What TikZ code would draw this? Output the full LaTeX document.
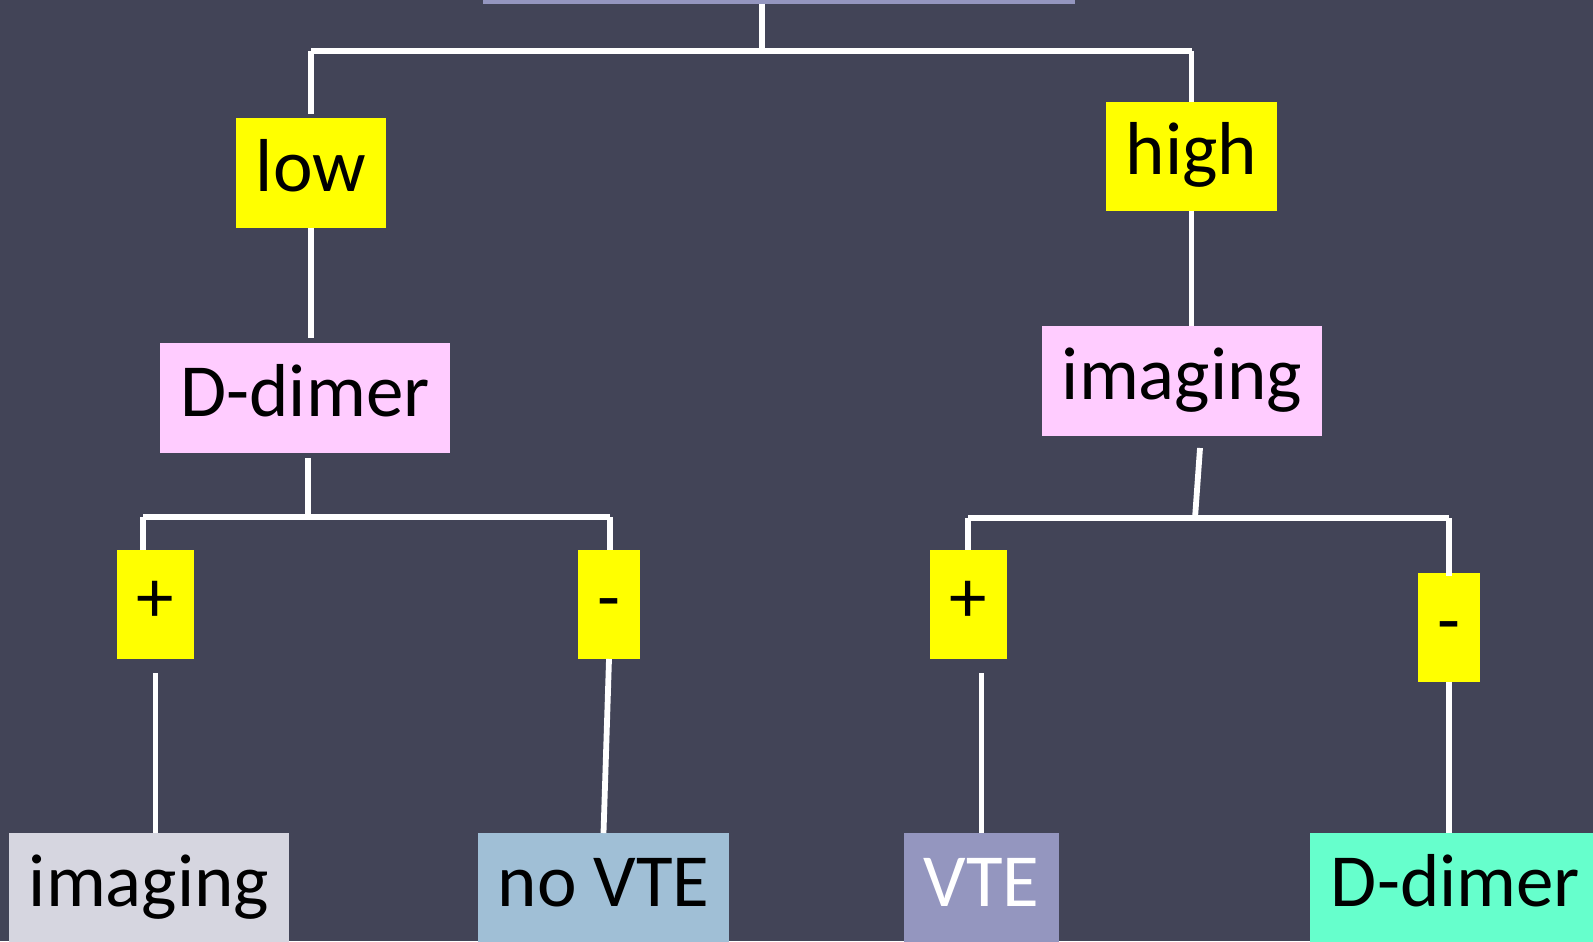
\documentclass[tikz,border=0pt]{standalone}
\usepackage{fontspec}
\setmainfont{Carlito}
\begin{document}
\begin{tikzpicture}[x=0.5pt,y=-0.5pt,
  box/.style={inner sep=0pt,outer sep=0pt,minimum height=55pt,text height=27pt,text depth=8.8pt,font=\fontsize{37.5}{40}\selectfont,text=black},
  yel/.style={box,fill=yel},
  conn/.style={draw=white,line width=2.9pt}]
\definecolor{bg}{HTML}{424457}
\definecolor{yel}{HTML}{FFFF00}
\definecolor{pinkbox}{HTML}{FFCCFF}
\definecolor{lav}{HTML}{9496BF}
\definecolor{greybox}{HTML}{D6D6E0}
\definecolor{bluebox}{HTML}{A0BFD6}
\definecolor{mint}{HTML}{66FFCC}
\useasboundingbox (0,0) rectangle (1593,941);
\fill[bg] (0,0) rectangle (1593,941);
\begin{scope}
\clip (0,0) rectangle (1593,941);
\node[box,fill=lav,minimum width=296pt,minimum height=52pt] (top) at (779,-48) {};
\node[yel,minimum width=75pt] (low) at (311,173) {low};
\node[box,fill=pinkbox,minimum width=145pt] (ddim1) at (305,398) {D-dimer};
\node[yel,minimum width=38.5pt,minimum height=54.5pt] (plus1) at (155.5,604.5) {+};
\node[yel,minimum width=31pt,minimum height=54.5pt] (minus1) at (609,604.5) {-};
\node[box,fill=greybox,minimum width=140pt] (imag1) at (149,888) {imaging};
\node[box,fill=bluebox,minimum width=125.5pt] (novte) at (603.5,888) {no VTE};
\node[yel,minimum width=85.5pt,minimum height=54.5pt] (high) at (1191.5,156.5) {high};
\node[box,fill=pinkbox,minimum width=140pt] (imag2) at (1182,381) {imaging};
\node[yel,minimum width=38.5pt,minimum height=54.5pt] (plus2) at (968.5,604.5) {+};
\node[yel,minimum width=31pt,minimum height=54.5pt] (minus2) at (1449,627.5) {-};
\node[box,fill=lav,minimum width=77.5pt,text=white] (vte) at (981.5,888) {VTE};
\node[box,fill=mint,minimum width=145.5pt] (ddim2) at (1455.5,888) {D-dimer};
\end{scope}
\coordinate (j0) at (762,51);
\coordinate (j1) at (308,517);
\coordinate (j1a) at (143,517);
\coordinate (j1b) at (610,517);
\coordinate (j2top) at (1200,448);
\coordinate (j2) at (1195,518);
\coordinate (j2a) at (968,518);
\coordinate (j2b) at (1449,518);
% top
\draw[conn] (top.south -| j0) -- (j0);
\draw[conn] (low.north |- j0) -- (high.north |- j0);
\draw[conn,shorten >=2pt] (low.north |- j0) -- (low.north);
\draw[conn] (high.north |- j0) -- (high.north);
% left branch
\draw[conn,shorten >=2.5pt] (low.south) -- (low.south |- ddim1.north);
\draw[conn,shorten <=2.5pt] (ddim1.south -| j1) -- (j1);
\draw[conn] (j1a) -- (j1b);
\draw[conn] (j1a) -- (j1a |- plus1.north);
\draw[conn] (j1b) -- (j1b |- minus1.north);
\draw[conn,shorten <=7pt] (plus1.south) -- (plus1.south |- imag1.north);
\draw[conn] (minus1.south) -- (novte.north);
% right branch
\draw[conn] (high.south) -- (high.south |- imag2.north);
\draw[conn] (j2top) -- (j2);
\draw[conn] (j2a) -- (j2b);
\draw[conn] (j2a) -- (j2a |- plus2.north);
\draw[conn,shorten >=-1.5pt] (j2b) -- (minus2.north);
\draw[conn,shorten <=7pt] (vte.north |- plus2.south) -- (vte.north);
\draw[conn] (minus2.south) -- (minus2.south |- ddim2.north);
\end{tikzpicture}
\end{document}
